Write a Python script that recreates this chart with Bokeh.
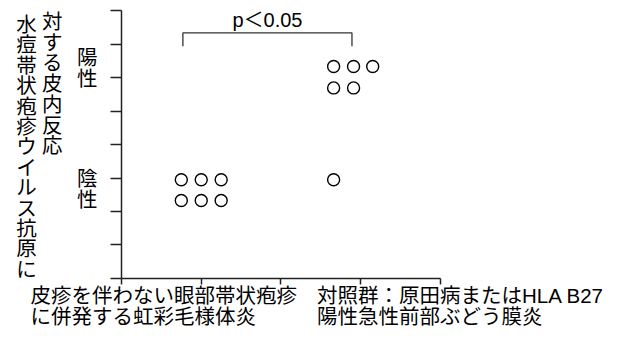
from bokeh.plotting import figure
from bokeh.models import Range1d, FixedTicker, Label
from bokeh.embed import file_html
from bokeh.resources import INLINE

# ---------------- data ----------------
categories = ["皮疹を伴わない眼部帯状疱疹\nに併発する虹彩毛様体炎",
              "対照群：原田病またはHLA B27\n陽性急性前部ぶどう膜炎"]
category_label_x = [-1.141, 2.452]

group1_x = [0.75, 1.00, 1.25, 0.75, 1.00, 1.25]
group1_y = [2.95, 2.95, 2.95, 2.33, 2.33, 2.33]
group2_x = [2.66, 2.91, 3.15, 2.66, 2.91, 2.66]
group2_y = [6.33, 6.33, 6.33, 5.69, 5.69, 2.95]

y_ticks = [0, 1, 2, 3, 4, 5, 6, 7, 8]
x_ticks = [0, 1, 2, 3, 4]

response_labels = ["陽性", "陰性"]
response_label_top = [6.60, 2.99]

y_title = ["水痘帯状疱疹ウイルス抗原に", "対する皮内反応"]
y_title_x = [-1.191, -0.869]
y_title_top = [7.58, 7.67]
y_title_step = [0.609, 0.618]

p_text = "p＜0.05"
bracket_x = [0.77, 0.77, 2.89, 2.89]
bracket_y = [6.93, 7.33, 7.33, 6.93]

FONT = "Liberation Sans, Noto Sans CJK JP"
FS = "20.5px"

p = figure(width=609, height=327, output_backend="svg", toolbar_location=None,
           x_range=Range1d(-1.517, 6.069), y_range=Range1d(-1.463, 8.299),
           x_axis_location="above", y_axis_location="right",
           min_border_left=0, min_border_right=4,
           min_border_top=0, min_border_bottom=0)
p.outline_line_color = None
p.xgrid.visible = False
p.ygrid.visible = False
p.background_fill_color = "white"
p.border_fill_color = "white"

for ax in (p.xaxis[0], p.yaxis[0]):
    ax.fixed_location = 0
    ax.axis_line_color = "#222222"
    ax.axis_line_width = 1.5
    ax.major_tick_line_color = "#222222"
    ax.major_tick_line_width = 1.5
    ax.minor_tick_line_color = None
    ax.major_tick_out = 0
    ax.major_label_standoff = 0
    ax.major_label_text_color = None
    ax.major_label_text_font_size = "0px"

p.yaxis[0].ticker = FixedTicker(ticks=y_ticks)
p.yaxis[0].bounds = (y_ticks[0], y_ticks[-1])
p.yaxis[0].major_tick_in = 11
p.xaxis[0].ticker = FixedTicker(ticks=x_ticks)
p.xaxis[0].bounds = (x_ticks[0], x_ticks[-1])
p.xaxis[0].major_tick_in = 6

for xs, ys in ((group1_x, group1_y), (group2_x, group2_y)):
    p.scatter(xs, ys, marker="circle", size=12, fill_color="white",
              line_color="black", line_width=1.4)

p.line(bracket_x, bracket_y, line_color="#333333", line_width=1.3)

p.add_layout(Label(x=(bracket_x[0] + bracket_x[-1]) / 2, y=7.73, text=p_text,
                   text_align="center", text_baseline="middle",
                   text_font=FONT, text_font_size="20px", text_color="black"))


def vertical_text(text, x, top, step):
    for i, ch in enumerate(text):
        p.add_layout(Label(x=x, y=top - i * step, text=ch, text_align="center",
                           text_baseline="middle", text_font=FONT,
                           text_font_size=FS, text_color="black"))


for t, top in zip(response_labels, response_label_top):
    vertical_text(t, -0.43, top, 0.62)

for t, lx, top, st in zip(y_title, y_title_x, y_title_top, y_title_step):
    vertical_text(t, lx, top, st)

for t, lx in zip(categories, category_label_x):
    p.add_layout(Label(x=lx, y=-0.16, text=t, text_align="left",
                       text_baseline="top", text_font=FONT, text_font_size=FS,
                       text_line_height=0.93, text_color="black"))

open("out.html", "w").write(file_html(p, INLINE))
